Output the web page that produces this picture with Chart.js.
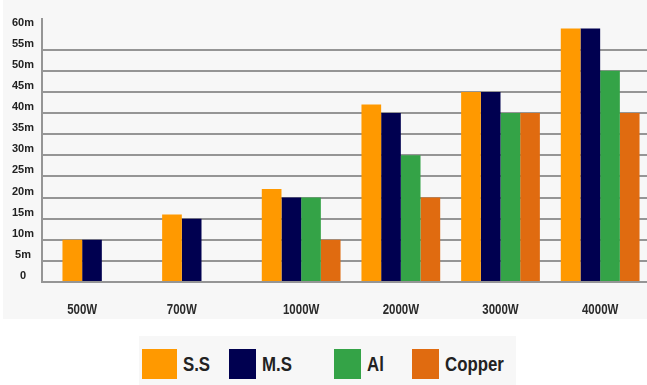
<!DOCTYPE html>
<html>
<head>
<meta charset="utf-8">
<script src="https://cdn.jsdelivr.net/npm/chart.js@4.4.1/dist/chart.umd.min.js"></script>
<style>
  html, body { margin: 0; padding: 0; background: #ffffff; width: 647px; height: 385px; overflow: hidden; }
  #panel { position: absolute; left: 3px; top: 0; width: 644px; height: 319px; background: #f7f7f7; overflow: hidden; }
  #wrap { position: absolute; left: -3px; top: 0; width: 652px; height: 319px; }
  #legend { position: absolute; left: 139px; top: 336px; width: 377px; height: 49px; background: #f7f7f7; }
  .item { position: absolute; top: 13px; height: 30px; display: flex; align-items: center; }
  .sw { height: 30px; flex: none; }
  .tx { font: bold 20px 'Liberation Sans', Arial, sans-serif; color: #222; margin-left: 6px; white-space: nowrap;
        display: inline-block; transform: scaleX(0.84); transform-origin: left center; }
</style>
</head>
<body>
<div id="panel"><div id="wrap"><canvas id="c"></canvas></div></div>
<div id="legend"></div>
<script>
// Cutting length by power level and material
const categories   = ['500W', '700W', '1000W', '2000W', '3000W', '4000W'];
const ssValues     = [10, 16, 22, 42, 45, 60];
const msValues     = [10, 15, 20, 40, 45, 60];
const alValues     = [null, null, 20, 30, 40, 50];
const copperValues = [null, null, 10, 20, 40, 40];
const seriesNames  = ['S.S', 'M.S', 'Al', 'Copper'];
const yTickValues  = [0, 5, 10, 15, 20, 25, 30, 35, 40, 45, 50, 55, 60];
const yTickLabels  = ['0', '5m', '10m', '15m', '20m', '25m', '30m', '35m', '40m', '45m', '50m', '55m', '60m'];

const seriesColors = ['#ff9900', '#000050', '#34a347', '#e06b10'];
const gridColor = '#959595';
const labelFont = "'Liberation Sans', Arial, sans-serif";

// Vertical axis line just left of the plot, where the tick marks begin
const axisLine = {
  id: 'axisLine',
  beforeDatasetsDraw(chart) {
    const { ctx, chartArea } = chart;
    const x = chartArea.left - 10;
    ctx.save();
    ctx.strokeStyle = gridColor;
    ctx.lineWidth = 2;
    ctx.beginPath();
    ctx.moveTo(x, chartArea.top);
    ctx.lineTo(x, chartArea.bottom + 1);
    ctx.stroke();
    ctx.restore();
  }
};

// Category labels (condensed bold) centred under the bars present in each group
const groupLabels = {
  id: 'groupLabels',
  afterDatasetsDraw(chart) {
    const { ctx, chartArea } = chart;
    chart.data.labels.forEach((label, j) => {
      let lo = Infinity, hi = -Infinity;
      chart.data.datasets.forEach((ds, i) => {
        if (ds.data[j] == null) return;
        const bar = chart.getDatasetMeta(i).data[j];
        lo = Math.min(lo, bar.x - bar.width / 2);
        hi = Math.max(hi, bar.x + bar.width / 2);
      });
      ctx.save();
      ctx.translate((lo + hi) / 2, chartArea.bottom + 28);
      ctx.scale(0.82, 1);
      ctx.font = 'bold 14px ' + labelFont;
      ctx.fillStyle = '#2a2a2a';
      ctx.textAlign = 'center';
      ctx.textBaseline = 'middle';
      ctx.fillText(label, 0, 0);
      ctx.restore();
    });
  }
};

const seriesValues = [ssValues, msValues, alValues, copperValues];

const chart = new Chart(document.getElementById('c'), {
  type: 'bar',
  data: {
    labels: categories,
    datasets: seriesNames.map((name, i) => ({
      label: name,
      data: seriesValues[i],
      backgroundColor: seriesColors[i],
      borderWidth: 0
    }))
  },
  options: {
    responsive: true,
    maintainAspectRatio: false,
    animation: false,
    layout: { padding: { top: 18, right: 2, left: 0, bottom: 0 } },
    datasets: { bar: { categoryPercentage: 0.79, barPercentage: 1.0 } },
    plugins: { legend: { display: false }, tooltip: { enabled: false } },
    scales: {
      x: {
        grid: { display: false },
        border: { display: false },
        ticks: { display: false },
        afterFit(s) { s.height = 37; }
      },
      y: {
        min: 0,
        max: 62.5,
        afterBuildTicks(s) { s.ticks = yTickValues.map(v => ({ value: v })); },
        afterFit(s) { s.width = 52; },
        border: { display: false },
        grid: {
          color: ctx => (ctx.tick && ctx.tick.value === 60) ? 'rgba(0,0,0,0)' : gridColor,
          tickColor: ctx => (ctx.tick && ctx.tick.value === 60) ? 'rgba(0,0,0,0)' : gridColor,
          lineWidth: 2,
          drawTicks: true,
          tickLength: 10
        },
        ticks: {
          padding: 8,
          crossAlign: 'center',
          labelOffset: -6,
          color: '#222',
          font: { family: labelFont, size: 11, weight: 'bold' },
          callback: (v, i) => yTickLabels[i]
        }
      }
    }
  },
  plugins: [axisLine, groupLabels]
});

// Legend built from the series names and colours
const legendSlots = [142, 229, 334, 412];
const swatchWidths = [35, 27, 27, 27];
const legend = document.getElementById('legend');
seriesNames.forEach((name, i) => {
  const item = document.createElement('div');
  item.className = 'item';
  item.style.left = (legendSlots[i] - 139) + 'px';
  const sw = document.createElement('span');
  sw.className = 'sw';
  sw.style.width = swatchWidths[i] + 'px';
  sw.style.background = seriesColors[i];
  const tx = document.createElement('span');
  tx.className = 'tx';
  tx.textContent = name;
  item.appendChild(sw);
  item.appendChild(tx);
  legend.appendChild(item);
});
</script>
</body>
</html>
